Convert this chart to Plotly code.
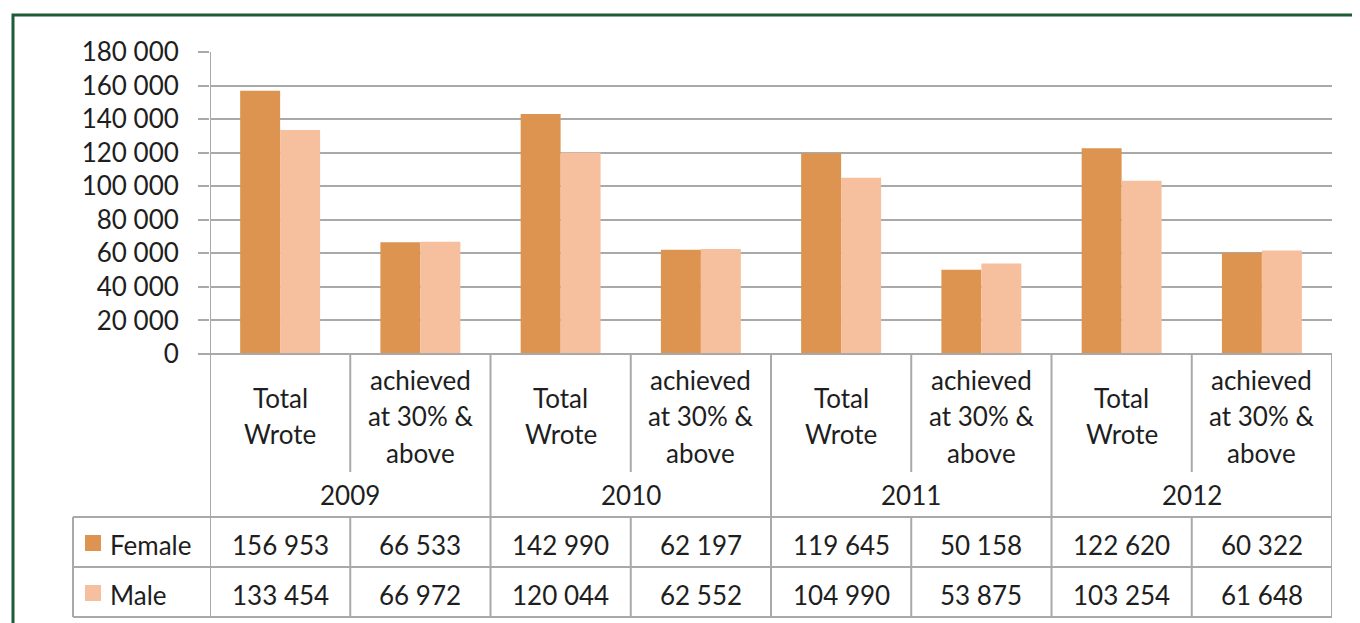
"""Matric results by gender, Excel-style column chart with data table."""

import plotly.graph_objects as go

years = ["2009", "2010", "2011", "2012"]
measures = ["Total<br>Wrote", "achieved<br>at 30% &<br>above"]
female = [156953, 66533, 142990, 62197, 119645, 50158, 122620, 60322]
male = [133454, 66972, 120044, 62552, 104990, 53875, 103254, 61648]
y_ticks = [0, 20000, 40000, 60000, 80000, 100000, 120000, 140000, 160000, 180000]

FEMALE_COLOR = "#dc9450"
MALE_COLOR = "#f6bf9e"
GRID = "#a9a9a9"
TEXT = "#1e1e1e"
FONT = "Lato"
FS = 26

# page draws the figure at (8, 8) because of the body margin
OFF = 8
W, H = 1360 - OFF, 623 - OFF
L, R, T, B = 210, 1332, 52, 354


def px(xp):
    return (xp - L) / (R - L)


def py(yp):
    return (B - yp) / (B - T)


n = len(female)
xs = list(range(n))

fig = go.Figure()
fig.add_trace(go.Bar(x=xs, y=female, name="Female", marker=dict(color=FEMALE_COLOR, line_width=0)))
fig.add_trace(go.Bar(x=xs, y=male, name="Male", marker=dict(color=MALE_COLOR, line_width=0)))

shapes = []
annotations = []


def line(x0, y0, x1, y1, xref="paper"):
    shapes.append(dict(type="line", xref=xref, yref="paper", x0=x0, x1=x1, y0=y0, y1=y1,
                       line=dict(color=GRID, width=2)))


def label(x, yp, text, xref="x", xanchor="center"):
    parts = text.split("<br>")
    for j, part in enumerate(parts):
        annotations.append(dict(x=x, y=py(yp + (j - (len(parts) - 1) / 2) * 36.5),
                                xref=xref, yref="paper", text=part, showarrow=False,
                                xanchor=xanchor, yanchor="middle",
                                font=dict(size=FS, color=TEXT)))


# category axis line
line(px(199), 0, 1, 0)
# left axis line, continues through the table
line(-0.5, 1, -0.5, py(617), xref="x")
# dividers between categories
for i in range(1, n + 1):
    x = i - 0.5
    if i % 2 == 0:
        line(x, 0, x, py(617), xref="x")
    else:
        line(x, 0, x, py(472), xref="x")
        line(x, py(517), x, py(617), xref="x")
# table horizontals
for yp in (517, 567, 617):
    line(px(73), py(yp), 1, py(yp))
line(px(73), py(517), px(73), py(617))

# green frame
shapes.append(dict(type="rect", xref="paper", yref="paper", x0=px(13), x1=px(1400),
                   y0=py(700), y1=py(15), line=dict(color="#1d5c36", width=3), layer="below"))

# category labels
for i in range(n):
    label(i, 416, measures[i % 2])
for k, yr in enumerate(years):
    label(2 * k + 0.5, 495, yr)

# data table
for name, vals, color, yp in (("Female", female, FEMALE_COLOR, 545), ("Male", male, MALE_COLOR, 595)):
    shapes.append(dict(type="rect", xref="paper", yref="paper", x0=px(85), x1=px(101),
                       y0=py(yp + 6), y1=py(yp - 10), fillcolor=color, line_width=0))
    label(px(108), yp, name, xref="paper", xanchor="left")
    for i, v in enumerate(vals):
        label(i, yp, f"{v:,}".replace(",", " "))

fig.update_layout(
    width=W,
    height=H,
    margin=dict(l=L - OFF, r=W - (R - OFF), t=T - OFF, b=H - (B - OFF), pad=0),
    paper_bgcolor="white",
    plot_bgcolor="white",
    barmode="group",
    bargap=0.43,
    bargroupgap=0,
    showlegend=False,
    separators=". ",
    font=dict(family=FONT, size=FS, color=TEXT),
    shapes=shapes,
    annotations=annotations,
)
fig.update_xaxes(range=[-0.5, n - 0.5], showticklabels=False, showgrid=False, zeroline=False)
fig.update_yaxes(
    range=[0, 180000],
    tickvals=y_ticks,
    tickformat=",d",
    showgrid=True,
    gridcolor=GRID,
    gridwidth=2,
    zeroline=False,
    ticks="outside",
    ticklen=11,
    tickwidth=2,
    tickcolor=GRID,
    ticklabelstandoff=14,
    tickfont=dict(size=FS, color=TEXT),
)

fig.write_html("out.html")
